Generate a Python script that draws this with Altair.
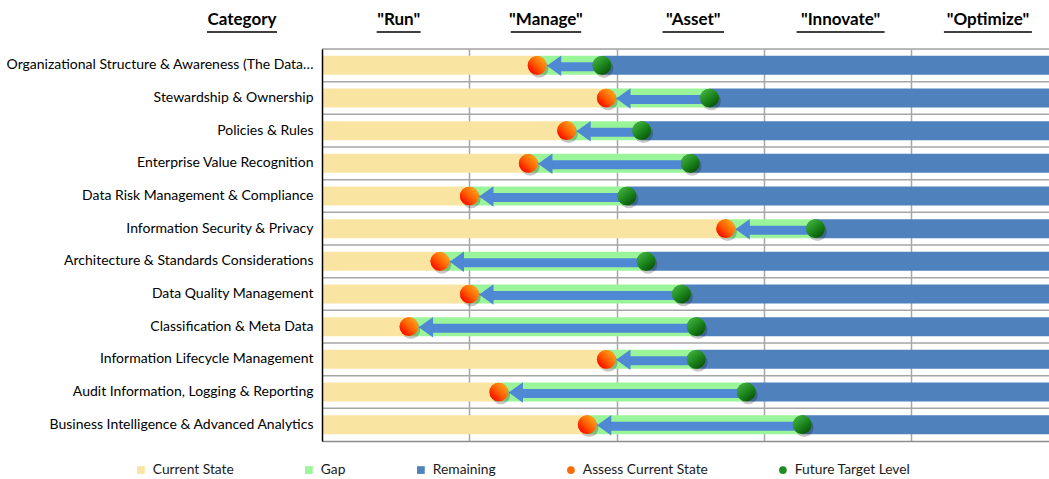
import altair as alt
import pandas as pd

categories = [
    "Organizational Structure & Awareness (The Data…",
    "Stewardship & Ownership",
    "Policies & Rules",
    "Enterprise Value Recognition",
    "Data Risk Management & Compliance",
    "Information Security & Privacy",
    "Architecture & Standards Considerations",
    "Data Quality Management",
    "Classification & Meta Data",
    "Information Lifecycle Management",
    "Audit Information, Logging & Reporting",
    "Business Intelligence & Advanced Analytics",
]
current_state = [1.46, 1.93, 1.66, 1.40, 1.00, 2.74, 0.80, 1.00, 0.59, 1.93, 1.20, 1.80]
future_target = [1.90, 2.63, 2.17, 2.50, 2.07, 3.35, 2.20, 2.44, 2.54, 2.54, 2.88, 3.26]
levels = ['"Run"', '"Manage"', '"Asset"', '"Innovate"', '"Optimize"']
series_names = ["Current State", "Gap", "Remaining", "Assess Current State", "Future Target Level"]
series_colors = ["#F9E5A1", "#9AF59A", "#4F81BD", "#FF6A00", "#1E8C1E"]
series_shapes = ["square", "square", "square", "circle", "circle"]

FONT = "Lato"
XMAX = 4.935
W, H = 727, 392
PX_PER_UNIT = W / XMAX

# ---- data tables built from the arrays ----
bar_rows = []
for c, cur, tgt in zip(categories, current_state, future_target):
    bar_rows.append(dict(cat=c, series="Current State", start=0.0, end=cur))
    bar_rows.append(dict(cat=c, series="Gap", start=cur, end=tgt))
    bar_rows.append(dict(cat=c, series="Remaining", start=tgt, end=XMAX))
bars_df = pd.DataFrame(bar_rows)

pts_df = pd.DataFrame(
    [dict(cat=c, series="Assess Current State", value=v) for c, v in zip(categories, current_state)]
    + [dict(cat=c, series="Future Target Level", value=v) for c, v in zip(categories, future_target)]
)
gap_df = pd.DataFrame(dict(cat=categories, current=current_state, target=future_target))
cat_df = pd.DataFrame(dict(cat=categories))

hdr_df = pd.DataFrame(dict(label=levels, pos=[i + 0.5 for i in range(len(levels))]))
hdr_df["pos"] = hdr_df["pos"] + 3 / PX_PER_UNIT
hdr_df["u0"] = hdr_df["pos"] - hdr_df["label"].str.len() * 4.4 / PX_PER_UNIT
hdr_df["u1"] = hdr_df["pos"] + hdr_df["label"].str.len() * 4.4 / PX_PER_UNIT

# ---- scales / axes ----
xscale = alt.Scale(domain=[0, XMAX], nice=False, zero=False)
yscale = alt.Scale(domain=categories, paddingInner=0, paddingOuter=0)
xaxis = alt.Axis(title=None, labels=False, ticks=False, values=[1, 2, 3, 4], grid=True,
                 gridColor="#A6A6A6", gridWidth=1.5, domainColor="#8C8C8C", domainWidth=1.5)
yaxis = alt.Axis(title=None, labelFont=FONT, labelFontSize=14, labelColor="#000000",
                 labelPadding=9, ticks=False, domainColor="#000000", domainWidth=1.5,
                 grid=False, zindex=1, labelLimit=330)
Y = alt.Y("cat:N", scale=yscale, axis=yaxis, sort=categories)

legend = alt.Legend(title=None, orient="none", legendX=-188, legendY=414, direction="horizontal",
                    symbolSize=60, labelFont=FONT, labelFontSize=13.8, labelColor="#1A1A1A",
                    columnPadding=68, labelOffset=5, symbolStrokeWidth=0)
color_scale = alt.Scale(domain=series_names, range=series_colors)
shape_scale = alt.Scale(domain=series_names, range=series_shapes)

grad_current = alt.LinearGradient(
    gradient="linear", x1=0.15, y1=0.85, x2=0.85, y2=0.15,
    stops=[alt.GradientStop(color="#FF0A00", offset=0), alt.GradientStop(color="#FF5A00", offset=0.45),
           alt.GradientStop(color="#FFA21A", offset=1)])
grad_target = alt.LinearGradient(
    gradient="linear", x1=0.2, y1=0.15, x2=0.8, y2=0.9,
    stops=[alt.GradientStop(color="#3DAA3D", offset=0), alt.GradientStop(color="#1C861C", offset=0.5),
           alt.GradientStop(color="#0A560A", offset=1)])

# ---- layers ----
row_lines = alt.Chart(cat_df).mark_rule(color="#A6A6A6", strokeWidth=1.5).encode(
    y=alt.Y("cat:N", scale=yscale, axis=yaxis, sort=categories, bandPosition=0),
    x=alt.datum(0, scale=xscale, axis=xaxis), x2=alt.datum(XMAX),
)

bars = alt.Chart(bars_df).mark_bar(size=19).encode(
    y=Y,
    x=alt.X("start:Q", scale=xscale, axis=xaxis),
    x2="end:Q",
    color=alt.Color("series:N", scale=color_scale, legend=legend),
)

shaft = alt.Chart(gap_df).mark_rule(strokeWidth=9, color="#4F88D3", xOffset=18, yOffset=1.5).encode(
    y=Y, x=alt.X("current:Q", scale=xscale, axis=xaxis), x2="target:Q"
)
head = alt.Chart(gap_df).mark_point(shape="M-0.7,0L0.7,-1L0.7,1Z", size=420, filled=True, opacity=1,
                                     color="#4F88D3", xOffset=17, yOffset=0.5).encode(
    y=Y, x=alt.X("current:Q", scale=xscale, axis=xaxis)
)

shadow = alt.Chart(pts_df).mark_point(shape="circle", size=350, filled=True, color="#000000",
                                       opacity=0.22, xOffset=2, yOffset=3).encode(
    y=Y, x=alt.X("value:Q", scale=xscale, axis=xaxis)
)
circles = alt.Chart(pts_df).mark_point(size=350, filled=True, opacity=1).encode(
    y=Y,
    x=alt.X("value:Q", scale=xscale, axis=xaxis),
    color=alt.Color("series:N", scale=color_scale, legend=legend),
    shape=alt.Shape("series:N", scale=shape_scale, legend=legend),
)
cur_circ = alt.Chart(gap_df).mark_point(shape="circle", size=350, filled=True, opacity=1,
                                         fill=grad_current, strokeWidth=0).encode(
    y=Y, x=alt.X("current:Q", scale=xscale, axis=xaxis)
)
tgt_circ = alt.Chart(gap_df).mark_point(shape="circle", size=350, filled=True, opacity=1,
                                         fill=grad_target, strokeWidth=0).encode(
    y=Y, x=alt.X("target:Q", scale=xscale, axis=xaxis)
)

headers = alt.Chart(hdr_df).mark_text(font=FONT, fontSize=17, fontWeight="bold", color="#000000",
                                      baseline="middle").encode(
    x=alt.X("pos:Q", scale=xscale, axis=xaxis), y=alt.value(-29), text="label:N"
)
underlines = alt.Chart(hdr_df).mark_rule(color="#000000", strokeWidth=1.3).encode(
    x=alt.X("u0:Q", scale=xscale, axis=xaxis), x2="u1:Q", y=alt.value(-17)
)
cat_hdr_df = pd.DataFrame(dict(label=["Category"]))
cat_header = alt.Chart(cat_hdr_df).mark_text(font=FONT, fontSize=17, fontWeight="bold",
                                             color="#000000", baseline="middle").encode(
    x=alt.value(-80), y=alt.value(-29), text="label:N"
)
cat_underline = alt.Chart(cat_hdr_df).mark_rule(color="#000000", strokeWidth=1.3).encode(
    x=alt.value(-115), x2=alt.value(-45), y=alt.value(-17)
)

chart = alt.layer(
    row_lines, bars, shaft, head, shadow, circles, cur_circ, tgt_circ,
    headers, underlines, cat_header, cat_underline,
).properties(
    width=W, height=H,
    padding={"left": 322, "top": 49, "right": 0, "bottom": 38},
    autosize=alt.AutoSizeParams(type="none"),
).configure_view(stroke=None).configure(background="white")

chart.save("out.html", embed_options={"renderer": "svg", "actions": False})
